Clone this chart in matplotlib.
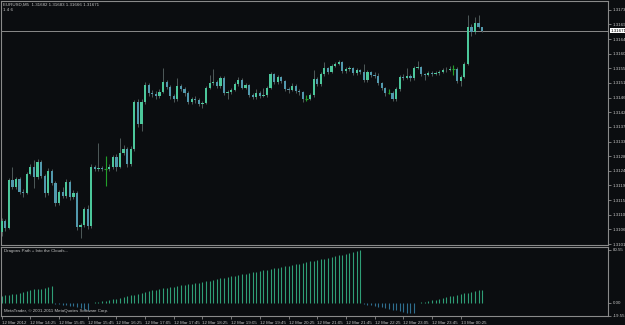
"""MetaTrader EURUSD M5 chart with a histogram subwindow."""

import matplotlib
matplotlib.use("Agg")
import matplotlib.pyplot as plt
import matplotlib.transforms as mtransforms
import numpy as np

# Theme
BG = "#0b0d10"
FRAME = "#8a8a8a"
TEXT = "#c4c4c4"
BULL = "#4cc79b"
BEAR = "#5299ad"
WICK = "#4f5a5a"
DOJI = "#22a02a"
HIST_UP = "#2f9e76"
HIST_DN = "#2f6f90"
FONT = "Liberation Sans"
FS = 3.2

W, H = 625, 325

# --- data: EURUSD M5, 12 Mar 2012 13:45 -> 13 Mar 00:55 ---
opens = [
    1.31052, 1.31086, 1.31064, 1.31212, 1.31190, 1.31215, 1.31175, 1.31172, 1.31230, 1.31252,
    1.31221, 1.31267, 1.31224, 1.31172, 1.31239, 1.31203, 1.31141, 1.31175, 1.31163, 1.31206,
    1.31159, 1.31172, 1.31067, 1.31073, 1.31123, 1.31070, 1.31252, 1.31246, 1.31249, 1.31246,
    1.31246, 1.31252, 1.31283, 1.31252, 1.31295, 1.31307, 1.31261, 1.31307, 1.31452, 1.31384,
    1.31452, 1.31504, 1.31479, 1.31476, 1.31470, 1.31482, 1.31513, 1.31498, 1.31470, 1.31461,
    1.31501, 1.31492, 1.31479, 1.31452, 1.31461, 1.31458, 1.31446, 1.31449, 1.31495, 1.31510,
    1.31513, 1.31501, 1.31526, 1.31479, 1.31482, 1.31489, 1.31507, 1.31519, 1.31495, 1.31504,
    1.31473, 1.31467, 1.31479, 1.31470, 1.31473, 1.31495, 1.31538, 1.31513, 1.31529, 1.31516,
    1.31492, 1.31489, 1.31501, 1.31486, 1.31482, 1.31461, 1.31461, 1.31473, 1.31522, 1.31507,
    1.31538, 1.31556, 1.31544, 1.31562, 1.31569, 1.31575, 1.31547, 1.31553, 1.31556, 1.31541,
    1.31550, 1.31544, 1.31519, 1.31544, 1.31535, 1.31532, 1.31510, 1.31495, 1.31479, 1.31479,
    1.31461, 1.31492, 1.31529, 1.31526, 1.31532, 1.31526, 1.31556, 1.31559, 1.31538, 1.31535,
    1.31541, 1.31538, 1.31541, 1.31544, 1.31550, 1.31549, 1.31553, 1.31553, 1.31516, 1.31529,
    1.31569, 1.31682, 1.31667, 1.31695, 1.31682,
]
highs = [
    1.31095, 1.31092, 1.31218, 1.31252, 1.31222, 1.31220, 1.31185, 1.31236, 1.31262, 1.31273,
    1.31275, 1.31272, 1.31230, 1.31248, 1.31246, 1.31208, 1.31182, 1.31190, 1.31214, 1.31212,
    1.31180, 1.31178, 1.31080, 1.31130, 1.31135, 1.31262, 1.31258, 1.31325, 1.31256, 1.31286,
    1.31262, 1.31290, 1.31292, 1.31341, 1.31318, 1.31312, 1.31316, 1.31458, 1.31460, 1.31460,
    1.31512, 1.31510, 1.31488, 1.31484, 1.31490, 1.31556, 1.31520, 1.31503, 1.31476, 1.31525,
    1.31508, 1.31497, 1.31484, 1.31468, 1.31470, 1.31464, 1.31456, 1.31500, 1.31535, 1.31553,
    1.31518, 1.31532, 1.31530, 1.31488, 1.31495, 1.31512, 1.31528, 1.31524, 1.31510, 1.31508,
    1.31480, 1.31492, 1.31484, 1.31495, 1.31500, 1.31544, 1.31541, 1.31535, 1.31533, 1.31520,
    1.31498, 1.31510, 1.31506, 1.31490, 1.31486, 1.31473, 1.31480, 1.31550, 1.31528, 1.31543,
    1.31575, 1.31560, 1.31568, 1.31574, 1.31580, 1.31578, 1.31560, 1.31562, 1.31560, 1.31556,
    1.31554, 1.31569, 1.31550, 1.31548, 1.31545, 1.31540, 1.31514, 1.31498, 1.31490, 1.31486,
    1.31498, 1.31534, 1.31538, 1.31556, 1.31538, 1.31562, 1.31578, 1.31562, 1.31542, 1.31546,
    1.31546, 1.31548, 1.31550, 1.31556, 1.31560, 1.31562, 1.31565, 1.31558, 1.31534, 1.31576,
    1.31719, 1.31690, 1.31713, 1.31719, 1.31683,
]
lows = [
    1.31040, 1.31055, 1.31060, 1.31185, 1.31184, 1.31168, 1.31160, 1.31168, 1.31226, 1.31187,
    1.31215, 1.31218, 1.31160, 1.31165, 1.31195, 1.31132, 1.31135, 1.31155, 1.31158, 1.31150,
    1.31152, 1.31058, 1.31033, 1.31066, 1.31060, 1.31065, 1.31240, 1.31240, 1.31240, 1.31194,
    1.31240, 1.31245, 1.31240, 1.31248, 1.31290, 1.31252, 1.31255, 1.31300, 1.31376, 1.31363,
    1.31445, 1.31470, 1.31468, 1.31462, 1.31465, 1.31478, 1.31492, 1.31462, 1.31452, 1.31456,
    1.31486, 1.31470, 1.31444, 1.31446, 1.31450, 1.31438, 1.31432, 1.31444, 1.31490, 1.31505,
    1.31495, 1.31496, 1.31472, 1.31461, 1.31476, 1.31484, 1.31502, 1.31490, 1.31490, 1.31466,
    1.31460, 1.31462, 1.31465, 1.31466, 1.31468, 1.31490, 1.31508, 1.31508, 1.31510, 1.31486,
    1.31480, 1.31484, 1.31478, 1.31474, 1.31452, 1.31455, 1.31458, 1.31468, 1.31500, 1.31502,
    1.31532, 1.31538, 1.31540, 1.31558, 1.31565, 1.31542, 1.31542, 1.31548, 1.31535, 1.31536,
    1.31538, 1.31514, 1.31514, 1.31528, 1.31525, 1.31505, 1.31488, 1.31470, 1.31476, 1.31454,
    1.31456, 1.31486, 1.31520, 1.31522, 1.31515, 1.31520, 1.31552, 1.31532, 1.31520, 1.31530,
    1.31532, 1.31534, 1.31536, 1.31540, 1.31544, 1.31546, 1.31535, 1.31510, 1.31500, 1.31524,
    1.31564, 1.31655, 1.31662, 1.31678, 1.31666,
]
closes = [
    1.31086, 1.31064, 1.31212, 1.31190, 1.31215, 1.31175, 1.31172, 1.31230, 1.31252, 1.31221,
    1.31267, 1.31224, 1.31172, 1.31239, 1.31203, 1.31141, 1.31175, 1.31163, 1.31206, 1.31159,
    1.31172, 1.31067, 1.31073, 1.31123, 1.31070, 1.31252, 1.31246, 1.31249, 1.31246, 1.31246,
    1.31252, 1.31283, 1.31252, 1.31295, 1.31307, 1.31261, 1.31307, 1.31452, 1.31384, 1.31452,
    1.31504, 1.31479, 1.31476, 1.31470, 1.31482, 1.31513, 1.31498, 1.31470, 1.31461, 1.31501,
    1.31492, 1.31479, 1.31452, 1.31461, 1.31458, 1.31446, 1.31449, 1.31495, 1.31510, 1.31513,
    1.31501, 1.31526, 1.31479, 1.31482, 1.31489, 1.31507, 1.31519, 1.31495, 1.31504, 1.31473,
    1.31467, 1.31479, 1.31470, 1.31473, 1.31495, 1.31538, 1.31513, 1.31529, 1.31516, 1.31492,
    1.31489, 1.31501, 1.31486, 1.31482, 1.31461, 1.31461, 1.31473, 1.31522, 1.31507, 1.31538,
    1.31556, 1.31544, 1.31562, 1.31569, 1.31575, 1.31547, 1.31553, 1.31556, 1.31541, 1.31550,
    1.31544, 1.31519, 1.31544, 1.31535, 1.31532, 1.31510, 1.31495, 1.31479, 1.31479, 1.31461,
    1.31492, 1.31529, 1.31526, 1.31532, 1.31526, 1.31556, 1.31559, 1.31538, 1.31535, 1.31541,
    1.31538, 1.31541, 1.31544, 1.31550, 1.31549, 1.31553, 1.31553, 1.31516, 1.31529, 1.31569,
    1.31682, 1.31667, 1.31695, 1.31682, 1.31671,
]

# "Dragons Path + Into the Clouds..." histogram
osc = [
    10.2, 11.8, 12.8, 13.3, 14.4, 15.9, 16.8, 17.9, 19.4, 20.5,
    21.4, 22.0, 23.0, 24.5, 25.5, -1.5, -2.3, -2.8, -3.6, -4.4,
    -5.2, -6.6, -8.3, -10.0, -11.2, 0.5, 1.3, 2.1, 2.9, 3.6,
    4.4, 5.3, 6.5, 7.6, 8.9, 10.1, 11.4, 12.6, 14.0, 15.3,
    16.6, 17.9, 19.0, 20.0, 21.0, 22.2, 23.4, 24.2, 25.0, 25.8,
    26.6, 27.6, 28.6, 29.5, 30.2, 30.9, 31.8, 32.9, 34.0, 35.0,
    36.2, 37.3, 38.3, 39.3, 40.4, 41.4, 42.5, 43.6, 44.6, 45.6,
    46.6, 47.6, 48.6, 49.6, 50.6, 51.7, 52.8, 53.8, 54.8, 55.8,
    56.8, 57.8, 58.8, 59.8, 61.0, 62.2, 63.3, 64.5, 65.6, 66.6,
    67.6, 68.6, 69.8, 71.0, 72.2, 73.4, 74.6, 75.8, 77.0, 78.6,
    80.55, -1.8, -2.5, -3.4, -4.6, -5.6, -6.6, -7.8, -9.0, -10.2,
    -11.4, -12.6, -13.7, -14.5, -15.3, -15.9, 0.5, 1.0, 2.0, 3.0,
    4.0, 5.2, 6.5, 7.8, 9.0, 10.0, 11.2, 12.5, 13.6, 14.6,
    15.5, 16.6, 17.8, 19.0, 20.0,
]

price_ticks = [
    1.31015, 1.31060, 1.31105, 1.31150, 1.31195, 1.31240, 1.31285, 1.31330, 1.31375,
    1.31420, 1.31465, 1.31510, 1.31555, 1.31600, 1.31645, 1.31690, 1.31735,
]
osc_ticks = [80.55, 0.00, -19.55]
time_labels = [
    "12 Mar 2012", "12 Mar 14:25", "12 Mar 15:05", "12 Mar 15:45", "12 Mar 16:25",
    "12 Mar 17:05", "12 Mar 17:45", "12 Mar 18:25", "12 Mar 19:05", "12 Mar 19:45",
    "12 Mar 20:25", "12 Mar 21:05", "12 Mar 21:45", "12 Mar 22:25", "12 Mar 23:05",
    "12 Mar 23:45", "13 Mar 00:25",
]
LABEL_EVERY = 8  # one time label per 8 bars (40 min)

symbol = "EURUSD,M5"
last_price = closes[-1]


def px_box(x0, y0, x1, y1):
    """Pixel box (top-left origin) -> figure fraction rect."""
    return [x0 / W, 1 - y1 / H, (x1 - x0) / W, (y1 - y0) / H]


def style_axes(ax):
    ax.set_facecolor(BG)
    for s in ax.spines.values():
        s.set_color(FRAME)
        s.set_linewidth(0.8)
    ax.tick_params(colors=FRAME, labelcolor=TEXT, labelsize=FS, length=2.5,
                   width=0.6, pad=1.2)
    for lab in ax.get_xticklabels() + ax.get_yticklabels():
        lab.set_fontfamily(FONT)


def make_chart():
    fig = plt.figure(figsize=(W / 100, H / 100), dpi=100)
    fig.patch.set_facecolor(BG)

    n = len(closes)
    x = np.arange(n)
    o = np.array(opens)
    c = np.array(closes)
    hi = np.array(highs)
    lo = np.array(lows)
    xlim = (-0.33, 169.1)

    # --- price window ---
    ax = fig.add_axes(px_box(0.5, 1, 608, 245))
    ax.set_xlim(*xlim)
    ax.set_ylim(1.31012, 1.31762)

    up = c > o
    dn = c < o
    dj = c == o
    ax.vlines(x[~dj], lo[~dj], hi[~dj], color=WICK, lw=0.7, zorder=2)
    ax.vlines(x[dj], lo[dj], hi[dj], color=DOJI, lw=0.8, zorder=3)
    ax.hlines(c[dj], x[dj] - 0.35, x[dj] + 0.35, color=DOJI, lw=0.8, zorder=3)
    ax.bar(x[up], (c - o)[up], bottom=o[up], width=0.62, color=BULL,
           edgecolor="none", zorder=3)
    ax.bar(x[dn], (o - c)[dn], bottom=c[dn], width=0.62, color=BEAR,
           edgecolor="none", zorder=3)

    # current price line + tag
    ax.axhline(last_price, color=FRAME, lw=0.7, zorder=1)

    ax.yaxis.tick_right()
    ax.set_yticks(price_ticks)
    ax.set_yticklabels([f"{p:.5f}" for p in price_ticks])
    ax.set_xticks([])
    style_axes(ax)

    trans = mtransforms.blended_transform_factory(ax.transAxes, ax.transData)
    ax.text(1.004, last_price, f"{last_price:.5f}", transform=trans,
            fontsize=FS, fontfamily=FONT, color="black", ha="left", va="center",
            bbox=dict(boxstyle="square,pad=0.15", facecolor="white",
                      edgecolor="none"), zorder=10, clip_on=False)

    fig.text(3 / W, 1 - 5 / H,
             f"{symbol}  {opens[-1]:.5f} {highs[-1]:.5f} {lows[-1]:.5f} {closes[-1]:.5f}",
             fontsize=FS, fontfamily=FONT, color=TEXT, va="center")
    fig.text(3 / W, 1 - 10 / H, "1 4 6", fontsize=FS, fontfamily=FONT,
             color=TEXT, va="center")

    # --- indicator window ---
    ax2 = fig.add_axes(px_box(0.5, 247, 608, 316))
    ax2.set_xlim(*xlim)
    ax2.set_ylim(-19.8, 85.1)
    v = np.array(osc)
    ax2.vlines(x[v >= 0], 0, v[v >= 0], color=HIST_UP, lw=0.8)
    ax2.vlines(x[v < 0], 0, v[v < 0], color=HIST_DN, lw=0.8)

    ax2.yaxis.tick_right()
    ax2.set_yticks(osc_ticks)
    ax2.set_yticklabels([f"{t:.2f}" for t in osc_ticks])
    ticks = np.arange(0, n, LABEL_EVERY)[:len(time_labels)]
    ax2.set_xticks(ticks)
    ax2.set_xticklabels(time_labels, ha="left")
    style_axes(ax2)

    ax2.text(3 / 607.5, 1 - 4 / 69, "Dragons Path + Into the Clouds...",
             transform=ax2.transAxes, fontsize=FS, fontfamily=FONT,
             color=TEXT, va="center")
    ax2.text(3 / 607.5, 5 / 69, "MetaTrader, \u00a9 2001-2011 MetaQuotes Software Corp.",
             transform=ax2.transAxes, fontsize=FS, fontfamily=FONT,
             color=TEXT, va="center")

    fig.savefig("out.png", dpi=100, facecolor=BG)
    plt.close()


if __name__ == "__main__":
    make_chart()
